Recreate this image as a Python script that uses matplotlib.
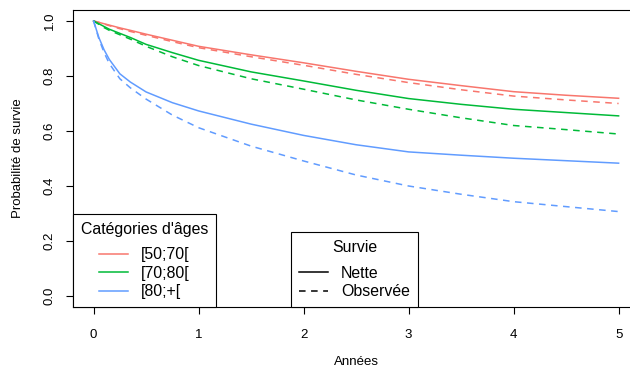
import numpy as np
import matplotlib
matplotlib.use('Agg')
import matplotlib.pyplot as plt
from matplotlib.lines import Line2D

plt.rcParams['font.family'] = ['Liberation Sans', 'DejaVu Sans']

# ============================================================
# Data
# ============================================================
annees = [0, 0.05, 0.1, 0.15, 0.25, 0.35, 0.5, 0.75, 1, 1.5, 2, 2.5, 3, 3.5, 4, 4.5, 5]

nette_50_70 = [1.0, 0.995, 0.99, 0.985, 0.975, 0.966, 0.952, 0.93, 0.908, 0.877, 0.848, 0.817, 0.788, 0.765, 0.743, 0.730, 0.719]
obs_50_70 = [1.0, 0.995, 0.989, 0.983, 0.972, 0.962, 0.948, 0.925, 0.903, 0.870, 0.839, 0.806, 0.776, 0.750, 0.727, 0.713, 0.700]
nette_70_80 = [1.0, 0.99, 0.98, 0.97, 0.955, 0.94, 0.915, 0.885, 0.857, 0.815, 0.782, 0.748, 0.718, 0.697, 0.679, 0.667, 0.655]
obs_70_80 = [1.0, 0.988, 0.976, 0.966, 0.95, 0.934, 0.908, 0.870, 0.838, 0.790, 0.752, 0.713, 0.679, 0.648, 0.620, 0.605, 0.589]
nette_80 = [1.0, 0.94, 0.895, 0.86, 0.808, 0.778, 0.742, 0.703, 0.673, 0.625, 0.584, 0.55, 0.524, 0.512, 0.501, 0.492, 0.483]
obs_80 = [1.0, 0.935, 0.885, 0.845, 0.79, 0.757, 0.716, 0.658, 0.612, 0.545, 0.491, 0.44, 0.40, 0.37, 0.343, 0.325, 0.307]

categories = ['[50;70[', '[70;80[', '[80;+[']
couleurs = ['#F8766D', '#00BA38', '#619CFF']
nette = [nette_50_70, nette_70_80, nette_80]
observee = [obs_50_70, obs_70_80, obs_80]

x_ticks = [0, 1, 2, 3, 4, 5]
y_ticks = [0.0, 0.2, 0.4, 0.6, 0.8, 1.0]

# ============================================================
# Plot
# ============================================================
W, H = 630, 367
fig = plt.figure(figsize=(W / 100, H / 100), dpi=100)
ax = fig.add_axes([72.6 / W, 1 - 307 / H, 567 / W, 297 / H])

dash = (4.3, 3.6)
for c, sn, so in zip(couleurs, nette, observee):
    ax.plot(annees, sn, color=c, lw=1.1, solid_joinstyle='round')
    ax.plot(annees, so, color=c, lw=1.1, linestyle=(0, dash))

ax.set_xlim(-0.2, 5.2)
ax.set_ylim(-0.04, 1.04)
ax.set_xticks(x_ticks)
ax.set_xticklabels([str(v) for v in x_ticks])
ax.set_yticks(y_ticks)
ax.set_yticklabels([f'{v:.1f}' for v in y_ticks], rotation=90, va='center')
ax.tick_params(direction='out', length=5, width=0.8, labelsize=9.5, colors='black')
ax.tick_params(axis='x', pad=10.5)
ax.tick_params(axis='y', pad=7)
for s in ax.spines.values():
    s.set_linewidth(0.8)
    s.set_color('black')

ax.set_xlabel('Années', fontsize=9.5)
ax.xaxis.set_label_coords(0.5, -0.165)
ax.set_ylabel('Probabilité de survie', fontsize=9.5)
ax.yaxis.set_label_coords(-0.085, 0.5)

# legend 1: age categories
h1 = [Line2D([], [], color=c, lw=1.1) for c in couleurs]
leg1 = ax.legend(h1, categories, title="Catégories d'âges", loc='lower left',
                 bbox_to_anchor=(0, 0), borderaxespad=0, fontsize=11.4, title_fontsize=11.4,
                 frameon=True, fancybox=False, framealpha=1, edgecolor='black',
                 handlelength=1.85, handletextpad=0.85, labelspacing=0.21, borderpad=0.5)
leg1.get_frame().set_linewidth(0.8)
leg1._legend_box.sep = 7.7
ax.add_artist(leg1)

# legend 2: survival type
h2 = [Line2D([], [], color='black', lw=1.1),
      Line2D([], [], color='black', lw=1.1, linestyle=(0, dash))]
leg2 = ax.legend(h2, ['Nette', 'Observée'], title='Survie', loc='lower left',
                 bbox_to_anchor=((291 - 72.6) / 567, 0), borderaxespad=0, fontsize=11.4,
                 title_fontsize=11.4, frameon=True, fancybox=False, framealpha=1,
                 edgecolor='black', handlelength=1.85, handletextpad=0.8,
                 labelspacing=0.21, borderpad=0.5)
leg2.get_frame().set_linewidth(0.8)
leg2._legend_box.sep = 7.7

fig.savefig('out.png', dpi=100)
